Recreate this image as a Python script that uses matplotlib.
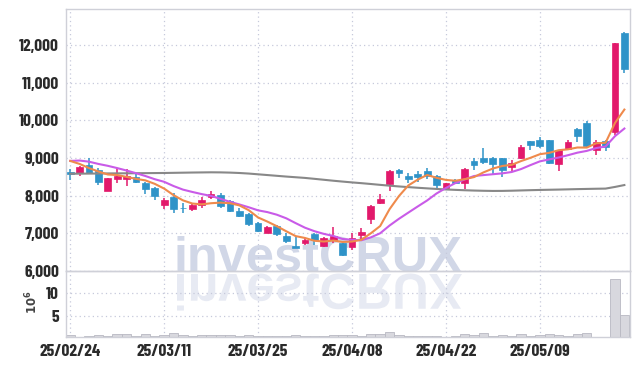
import numpy as np
import pandas as pd
import matplotlib
matplotlib.use("Agg")
import matplotlib.pyplot as plt
from matplotlib.textpath import TextPath
from matplotlib.patches import PathPatch
from matplotlib.font_manager import FontProperties
from matplotlib.transforms import Affine2D, IdentityTransform

dates = [
    "2025-02-24", "2025-02-25", "2025-02-26", "2025-02-27", "2025-02-28",
    "2025-03-04", "2025-03-05", "2025-03-06", "2025-03-07", "2025-03-10",
    "2025-03-11", "2025-03-12", "2025-03-13", "2025-03-14", "2025-03-17",
    "2025-03-18", "2025-03-19", "2025-03-20", "2025-03-21", "2025-03-24",
    "2025-03-25", "2025-03-26", "2025-03-27", "2025-03-28", "2025-03-31",
    "2025-04-01", "2025-04-02", "2025-04-03", "2025-04-04", "2025-04-07",
    "2025-04-08", "2025-04-09", "2025-04-10", "2025-04-11", "2025-04-14",
    "2025-04-15", "2025-04-16", "2025-04-17", "2025-04-18", "2025-04-21",
    "2025-04-22", "2025-04-23", "2025-04-24", "2025-04-25", "2025-04-28",
    "2025-04-29", "2025-04-30", "2025-05-02", "2025-05-07", "2025-05-08",
    "2025-05-09", "2025-05-12", "2025-05-13", "2025-05-14", "2025-05-15",
    "2025-05-16", "2025-05-19", "2025-05-20", "2025-05-21", "2025-05-22",
]

opens = [8630, 8590, 8810, 8680, 8130, 8450, 8450, 8500, 8330, 8210,
         7750, 7970, 7670, 7650, 7750, 7960, 8020, 7870, 7600, 7500,
         7280, 7020, 7190, 6930, 6660, 6740, 6970, 6670, 6810, 6735,
         6630, 6960, 7370, 7810, 8300, 8680, 8520, 8570, 8660, 8520,
         8210, 8420, 8330, 8920, 9010, 9010, 9000, 8770, 8990, 9450,
         9480, 9480, 8830, 9240, 9760, 9930, 9200, 9460, 9700, 12310]
highs = [8700, 8790, 8990, 8730, 8470, 8730, 8700, 8610, 8370, 8230,
         7930, 8060, 7810, 7800, 7960, 8130, 8060, 7880, 7660, 7550,
         7310, 7190, 7210, 7000, 6890, 6870, 7000, 6890, 7160, 6750,
         7000, 7130, 7750, 8040, 8670, 8710, 8590, 8660, 8730, 8540,
         8340, 8440, 8730, 9010, 9250, 9020, 9010, 8950, 9340, 9460,
         9550, 9480, 9220, 9480, 9800, 9990, 9480, 9470, 12050, 12340]
lows = [8420, 8520, 8590, 8280, 8120, 8330, 8250, 8330, 8040, 7880,
        7640, 7530, 7530, 7590, 7660, 7900, 7660, 7560, 7440, 7200,
        7040, 7010, 6930, 6750, 6600, 6690, 6690, 6630, 6750, 6400,
        6560, 6820, 7250, 7780, 8110, 8460, 8330, 8370, 8430, 8170,
        8170, 8320, 8180, 8680, 8830, 8550, 8500, 8640, 8980, 9210,
        9260, 8850, 8640, 9230, 9430, 9300, 9080, 9170, 9610, 11250]
closes = [8580, 8770, 8610, 8370, 8460, 8520, 8520, 8350, 8170, 8000,
          7890, 7650, 7660, 7750, 7890, 8040, 7730, 7580, 7470, 7250,
          7070, 7180, 6970, 6800, 6610, 6820, 6810, 6870, 6930, 6425,
          6870, 7040, 7730, 7900, 8660, 8610, 8450, 8500, 8520, 8280,
          8330, 8340, 8710, 8800, 8900, 8840, 8680, 8860, 9300, 9330,
          9320, 8860, 9210, 9420, 9570, 9310, 9430, 9280, 12040, 11350]

# volume in millions
volumes = [0.6, 0.3, 0.5, 0.7, 0.4, 0.9, 0.9, 0.4, 0.9, 0.5,
           0.6, 1.1, 0.6, 0.4, 0.7, 0.7, 0.8, 0.7, 0.5, 0.8,
           0.5, 0.4, 0.5, 0.4, 0.6, 0.5, 0.4, 0.5, 0.6, 0.7,
           0.6, 0.5, 0.9, 0.9, 1.4, 0.8, 0.5, 0.4, 0.5, 0.4,
           0.3, 0.4, 0.9, 0.6, 1.1, 0.5, 0.6, 0.4, 0.9, 0.4,
           0.6, 0.9, 0.6, 0.5, 0.9, 1.1, 0.3, 0.3, 13.3, 5.1]

ma_short = [8920, 8840, 8730, 8640, 8560, 8546, 8496, 8444, 8404, 8312,
            8186, 8012, 7874, 7790, 7768, 7798, 7814, 7798, 7742, 7614,
            7420, 7310, 7188, 7054, 6926, 6876, 6802, 6782, 6808, 6771,
            6781, 6827, 6999, 7193, 7640, 7988, 8270, 8424, 8548, 8472,
            8416, 8394, 8436, 8492, 8616, 8718, 8786, 8816, 8916, 9002,
            9098, 9134, 9204, 9228, 9276, 9274, 9388, 9402, 9926, 10282]
ma_mid = [8920, 8930, 8900, 8840, 8790, 8730, 8665, 8595, 8520, 8435,
          8366, 8254, 8159, 8097, 8040, 7992, 7913, 7836, 7766, 7691,
          7609, 7562, 7493, 7398, 7270, 7148, 7056, 6985, 6931, 6849,
          6829, 6815, 6891, 7001, 7206, 7385, 7549, 7712, 7871, 8056,
          8202, 8332, 8430, 8520, 8544, 8567, 8590, 8626, 8704, 8809,
          8908, 8960, 9010, 9072, 9139, 9186, 9261, 9303, 9577, 9779]
ma_long = [8580, 8582, 8584, 8586, 8588, 8590, 8592, 8594, 8596, 8598,
           8600, 8604, 8608, 8612, 8615, 8618, 8616, 8610, 8600, 8585,
           8565, 8545, 8525, 8505, 8487, 8469, 8445, 8420, 8395, 8372,
           8350, 8330, 8308, 8285, 8263, 8243, 8225, 8208, 8192, 8177,
           8163, 8152, 8142, 8134, 8128, 8124, 8125, 8130, 8137, 8144,
           8150, 8155, 8160, 8166, 8172, 8177, 8182, 8186, 8230, 8280]

UP = "#e2196b"
DOWN = "#2f93c8"
GRID = "#c6c9db"
SPINE = "#cfd0d8"

plt.rcParams["font.family"] = ["Barlow Condensed", "DejaVu Sans"]
plt.rcParams["font.weight"] = "bold"

df = pd.DataFrame({"open": opens, "high": highs, "low": lows,
                   "close": closes, "volume": volumes},
                  index=pd.to_datetime(dates))
x = np.arange(len(df))
colors = [UP if c >= o else DOWN for o, c in zip(df["open"], df["close"])]

fig = plt.figure(figsize=(6.39, 3.66), dpi=100)
fig.patch.set_facecolor("white")
ax = fig.add_axes([66 / 639, 95 / 366, 564 / 639, 262 / 366])
axv = fig.add_axes([66 / 639, 29 / 366, 564 / 639, 66 / 366], sharex=ax)

# watermark as text, reflection drawn as a flipped outline of the same text
fp = FontProperties(family="Liberation Sans", weight="bold")
tp = TextPath((0, 0), "investCRUX", size=50, prop=fp)
bb = tp.get_extents()
sc = 285 / bb.width
x0 = 177 - bb.x0 * sc
fig.text(x0 / 639, 94 / 366, "investCRUX", fontproperties=fp,
         fontsize=50 * sc * 72 / 100, color="#d1d7e7",
         ha="left", va="baseline", zorder=-1)
rf = Affine2D().scale(sc, -sc).translate(x0, 92)
fig.add_artist(PathPatch(rf.transform_path(tp), transform=IdentityTransform(),
                         fc="#e7eaf3", ec="none", zorder=-1))

for a in (ax, axv):
    a.set_facecolor("none")
    for s in a.spines.values():
        s.set_color(SPINE)
        s.set_linewidth(1)
    a.grid(True, linestyle=(0, (1, 2.5)), color=GRID, linewidth=0.9)
    a.tick_params(length=0, pad=5, labelcolor="#2a2a2a", labelsize=12.5)

# candles
body_low = np.minimum(df["open"], df["close"])
body_h = np.maximum(np.abs(df["close"] - df["open"]), 20)
ax.vlines(x, df["low"], df["high"], colors=colors, linewidth=1.1, zorder=2)
ax.bar(x, body_h, bottom=body_low, width=0.72, color=colors,
       edgecolor=colors, linewidth=0.5, zorder=3)

ax.plot(x, ma_long, color="#888888", linewidth=1.5, zorder=4)
ax.plot(x, ma_mid, color="#c95be8", linewidth=1.5, zorder=4)
ax.plot(x, ma_short, color="#ef8a4c", linewidth=1.5, zorder=4)

ax.set_xlim(-0.45, 59.6)
ax.set_ylim(6000, 12950)
ax.set_yticks(range(6000, 12001, 1000))
ax.set_yticklabels([f"{v:,}" for v in range(6000, 12001, 1000)])
ax.tick_params(labelbottom=False)

axv.bar(x, df["volume"], width=1.0, color="#d8d8de", edgecolor="#b8b8c2",
        linewidth=0.6, zorder=2)
axv.set_ylim(0.25, 15.0)
axv.set_yticks([5, 10])
axv.set_yticklabels(["5", "10"])

tick_pos = x[::10]
axv.set_xticks(tick_pos)
axv.set_xticklabels(df.index[::10].strftime("%y/%m/%d"))
axv.tick_params(axis="x", labelsize=12.5)

fig.text(32 / 639, 1 - 302 / 366, r"$10^6$", rotation=90, ha="center",
         va="center", fontsize=8.5, fontweight="normal", color="#444444")

fig.savefig("out.png", dpi=100)
